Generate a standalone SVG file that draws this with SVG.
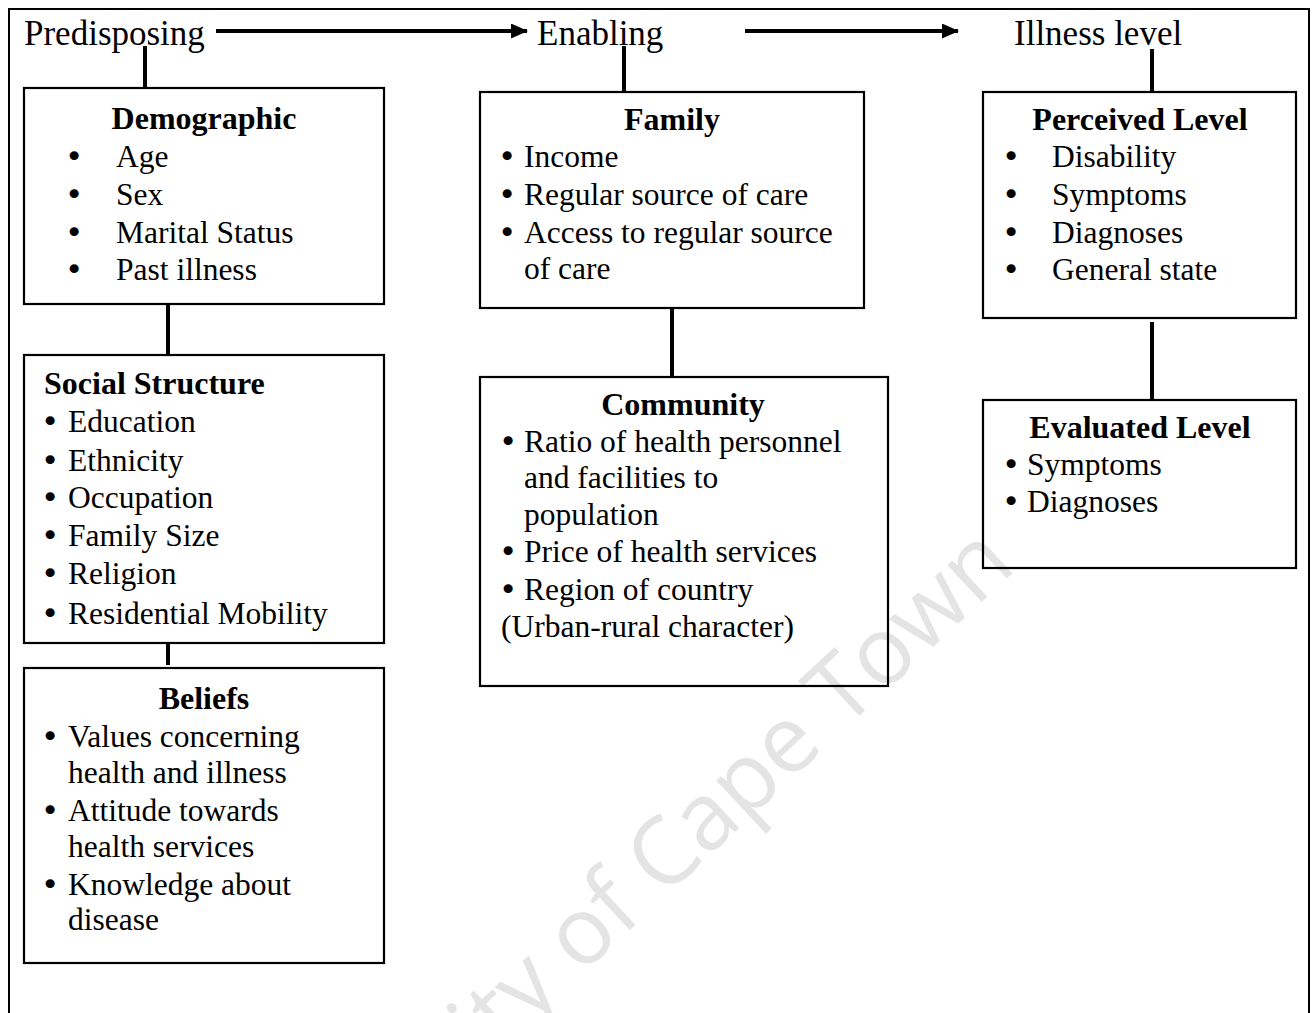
<svg xmlns="http://www.w3.org/2000/svg" width="1312" height="1013" viewBox="0 0 1312 1013">
<defs>
<style>
.t{font-family:"Liberation Serif","Times New Roman",serif;font-size:31.5px;fill:#000}
.h{font-family:"Liberation Serif","Times New Roman",serif;font-size:35px;fill:#000}
.b{font-weight:bold;font-size:32px}
.u{font-family:"DejaVu Sans",sans-serif;font-size:31px}
.box{fill:none;stroke:#000;stroke-width:2.2}
.c{stroke:#000;stroke-width:4;fill:none}
.wm{font-family:"Open Sans","Liberation Sans",sans-serif;font-weight:400;font-size:94px;fill:#e4e4e4}
</style>
<marker id="ah" viewBox="0 0 17 15" refX="16" refY="7.5" markerWidth="17" markerHeight="15" orient="auto" markerUnits="userSpaceOnUse">
<path d="M0,0 L17,7.5 L0,15 z" fill="#000"/>
</marker>
</defs>
<rect width="1312" height="1013" fill="#fff"/>
<text class="wm" text-anchor="end" transform="translate(1018,568) rotate(-43)">University of Cape Town</text>
<rect x="9" y="9" width="1300" height="1030" fill="none" stroke="#000" stroke-width="2"/>

<g id="headers">
<text class="h" x="24" y="45">Predisposing</text>
<text class="h" x="537" y="45">Enabling</text>
<text class="h" x="1014" y="45">Illness level</text>
</g>

<g id="connectors">
<line class="c" x1="216" y1="31" x2="527" y2="31" marker-end="url(#ah)"/>
<line class="c" x1="745" y1="31" x2="958" y2="31" marker-end="url(#ah)"/>
<line class="c" x1="145" y1="46" x2="145" y2="88"/>
<line class="c" x1="624" y1="46" x2="624" y2="92"/>
<line class="c" x1="1152" y1="49" x2="1152" y2="92"/>
<line class="c" x1="168" y1="304" x2="168" y2="355"/>
<line class="c" x1="168" y1="643" x2="168" y2="665"/>
<line class="c" x1="672" y1="308" x2="672" y2="377"/>
<line class="c" x1="1152" y1="322" x2="1152" y2="400"/>
</g>

<g id="demographic">
<rect class="box" x="24" y="88" width="360" height="216"/>
<text class="t b" x="204" y="129" text-anchor="middle">Demographic</text>
<text class="t" y="167"><tspan class="u" x="65">•</tspan><tspan x="116">Age</tspan></text>
<text class="t" y="205"><tspan class="u" x="65">•</tspan><tspan x="116">Sex</tspan></text>
<text class="t" y="243"><tspan class="u" x="65">•</tspan><tspan x="116">Marital Status</tspan></text>
<text class="t" y="280"><tspan class="u" x="65">•</tspan><tspan x="116">Past illness</tspan></text>
</g>

<g id="social-structure">
<rect class="box" x="24" y="355" width="360" height="288"/>
<text class="t b" x="44" y="394">Social Structure</text>
<text class="t" y="432"><tspan class="u" x="41">•</tspan><tspan x="68">Education</tspan></text>
<text class="t" y="471"><tspan class="u" x="41">•</tspan><tspan x="68">Ethnicity</tspan></text>
<text class="t" y="508"><tspan class="u" x="41">•</tspan><tspan x="68">Occupation</tspan></text>
<text class="t" y="546"><tspan class="u" x="41">•</tspan><tspan x="68">Family Size</tspan></text>
<text class="t" y="584"><tspan class="u" x="41">•</tspan><tspan x="68">Religion</tspan></text>
<text class="t" y="624"><tspan class="u" x="41">•</tspan><tspan x="68">Residential Mobility</tspan></text>
</g>

<g id="beliefs">
<rect class="box" x="24" y="668" width="360" height="295"/>
<text class="t b" x="204" y="709" text-anchor="middle">Beliefs</text>
<text class="t" y="747"><tspan class="u" x="41">•</tspan><tspan x="68">Values concerning</tspan></text>
<text class="t" x="68" y="783">health and illness</text>
<text class="t" y="821"><tspan class="u" x="41">•</tspan><tspan x="68">Attitude towards</tspan></text>
<text class="t" x="68" y="857">health services</text>
<text class="t" y="895"><tspan class="u" x="41">•</tspan><tspan x="68">Knowledge about</tspan></text>
<text class="t" x="68" y="930">disease</text>
</g>

<g id="family">
<rect class="box" x="480" y="92" width="384" height="216"/>
<text class="t b" x="672" y="130" text-anchor="middle">Family</text>
<text class="t" y="167"><tspan class="u" x="498">•</tspan><tspan x="524">Income</tspan></text>
<text class="t" y="205"><tspan class="u" x="498">•</tspan><tspan x="524">Regular source of care</tspan></text>
<text class="t" y="243"><tspan class="u" x="498">•</tspan><tspan x="524">Access to regular source</tspan></text>
<text class="t" x="524" y="279">of care</text>
</g>

<g id="community">
<rect class="box" x="480" y="377" width="408" height="309"/>
<text class="t b" x="683" y="415" text-anchor="middle">Community</text>
<text class="t" y="452"><tspan class="u" x="499">•</tspan><tspan x="524">Ratio of health personnel</tspan></text>
<text class="t" x="524" y="488">and facilities to</text>
<text class="t" x="524" y="525">population</text>
<text class="t" y="562"><tspan class="u" x="499">•</tspan><tspan x="524">Price of health services</tspan></text>
<text class="t" y="600"><tspan class="u" x="499">•</tspan><tspan x="524">Region of country</tspan></text>
<text class="t" x="501" y="637">(Urban-rural character)</text>
</g>

<g id="perceived-level">
<rect class="box" x="983" y="92" width="313" height="226"/>
<text class="t b" x="1140" y="130" text-anchor="middle">Perceived Level</text>
<text class="t" y="167"><tspan class="u" x="1002">•</tspan><tspan x="1052">Disability</tspan></text>
<text class="t" y="205"><tspan class="u" x="1002">•</tspan><tspan x="1052">Symptoms</tspan></text>
<text class="t" y="243"><tspan class="u" x="1002">•</tspan><tspan x="1052">Diagnoses</tspan></text>
<text class="t" y="280"><tspan class="u" x="1002">•</tspan><tspan x="1052">General state</tspan></text>
</g>

<g id="evaluated-level">
<rect class="box" x="983" y="400" width="313" height="168"/>
<text class="t b" x="1140" y="438" text-anchor="middle">Evaluated Level</text>
<text class="t" y="475"><tspan class="u" x="1002">•</tspan><tspan x="1027">Symptoms</tspan></text>
<text class="t" y="512"><tspan class="u" x="1002">•</tspan><tspan x="1027">Diagnoses</tspan></text>
</g>
</svg>
